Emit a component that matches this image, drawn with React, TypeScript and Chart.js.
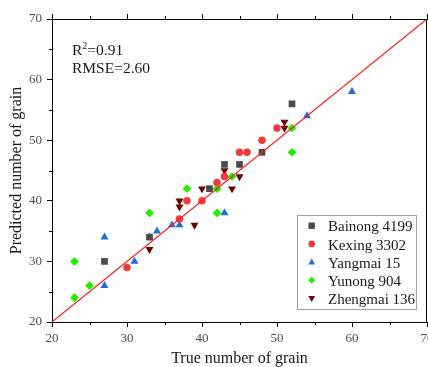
import React, { useEffect, useRef } from 'react';
import { Chart, registerables } from 'chart.js';

Chart.register(...registerables);

// ---- data (true value, predicted value) ----
const seriesNames = ['Bainong 4199', 'Kexing 3302', 'Yangmai 15', 'Yunong 904', 'Zhengmai 136'];

const bainongTrue = [27, 33, 41, 43, 45, 48, 52];
const bainongPred = [30, 34, 42, 46, 46, 48, 56];

const kexingTrue = [30, 37, 38, 40, 42, 43, 45, 46, 48, 50];
const kexingPred = [29, 37, 40, 40, 43, 44, 48, 48, 50, 52];

const yangmaiTrue = [27, 27, 31, 33, 34, 36, 37, 43, 54, 60];
const yangmaiPred = [26, 34, 30, 34, 35, 36, 36, 38, 54, 58];

const yunongTrue = [23, 23, 25, 33, 38, 42, 42, 44, 52, 52];
const yunongPred = [24, 30, 26, 38, 42, 38, 42, 44, 48, 52];

const zhengmaiTrue = [33, 37, 37, 39, 40, 43, 44, 45, 51, 51];
const zhengmaiPred = [32, 39, 40, 36, 42, 45, 42, 44, 52, 53];

const oneToOneLine = [20, 70];
const xTicks = [20, 30, 40, 50, 60, 70];
const yTicks = [20, 30, 40, 50, 60, 70];
const minorTicks = [25, 35, 45, 55, 65];

const r2Value = '0.91';
const rmseValue = '2.60';

const xTitle = 'True number of grain';
const yTitle = 'Predicted number of grain';

const SERIF = "'Liberation Serif', 'Times New Roman', serif";

const colors = ['#4a4a4a', '#ef3d3d', '#1f6fd8', '#22ee00', '#6e0000'];
const styles = ['rect', 'circle', 'triangle', 'rectRot', 'triangle'];
const rotations = [0, 0, 0, 0, 180];
const radii = [4.7, 3.8, 4.6, 4.4, 4.6];

const zip = (xs: number[], ys: number[]) => xs.map((x, i) => ({ x, y: ys[i] }));

function drawMarker(ctx: CanvasRenderingContext2D, kind: number, x: number, y: number, s: number) {
  ctx.beginPath();
  if (kind === 0) {
    ctx.rect(x - s, y - s, 2 * s, 2 * s);
  } else if (kind === 1) {
    ctx.arc(x, y, s, 0, Math.PI * 2);
  } else if (kind === 2) {
    ctx.moveTo(x, y - s * 1.1);
    ctx.lineTo(x + s * 1.05, y + s * 0.75);
    ctx.lineTo(x - s * 1.05, y + s * 0.75);
    ctx.closePath();
  } else if (kind === 3) {
    ctx.moveTo(x, y - s * 1.1);
    ctx.lineTo(x + s * 1.1, y);
    ctx.lineTo(x, y + s * 1.1);
    ctx.lineTo(x - s * 1.1, y);
    ctx.closePath();
  } else {
    ctx.moveTo(x, y + s * 1.1);
    ctx.lineTo(x + s * 1.05, y - s * 0.75);
    ctx.lineTo(x - s * 1.05, y - s * 0.75);
    ctx.closePath();
  }
  ctx.fill();
}

const zeroPad = (s: any) => {
  s.paddingLeft = 0;
  s.paddingRight = 0;
  s.paddingTop = 0;
  s.paddingBottom = 0;
};

const decorPlugin = {
  id: 'decor',
  afterDraw(chart: any) {
    const ctx: CanvasRenderingContext2D = chart.ctx;
    const { left, right, top, bottom } = chart.chartArea;
    const xs = chart.scales.x;
    const ys = chart.scales.y;
    ctx.save();
    // right frame line
    ctx.strokeStyle = '#000';
    ctx.lineWidth = 1;
    ctx.beginPath();
    const rx = Math.round(right) - 0.5;
    ctx.moveTo(rx, top);
    ctx.lineTo(rx, bottom);
    ctx.stroke();
    // minor ticks
    ctx.beginPath();
    minorTicks.forEach((v) => {
      const px = Math.round(xs.getPixelForValue(v)) + 0.5;
      ctx.moveTo(px, bottom);
      ctx.lineTo(px, bottom + 3);
      ctx.moveTo(px, top);
      ctx.lineTo(px, top - 3);
      const py = Math.round(ys.getPixelForValue(v)) + 0.5;
      ctx.moveTo(left, py);
      ctx.lineTo(left - 3, py);
    });
    ctx.stroke();

    // annotation text
    ctx.fillStyle = '#1a1a1a';
    ctx.textBaseline = 'alphabetic';
    ctx.textAlign = 'left';
    const ax = 72;
    ctx.font = `15.5px ${SERIF}`;
    ctx.fillText('R', ax, 54.5);
    const rw = ctx.measureText('R').width;
    ctx.font = `10px ${SERIF}`;
    ctx.fillText('2', ax + rw, 48.5);
    const sw = ctx.measureText('2').width;
    ctx.font = `15.5px ${SERIF}`;
    ctx.fillText('=' + r2Value, ax + rw + sw, 54.5);
    ctx.fillText('RMSE=' + rmseValue, ax, 72.8);

    // legend
    const lx = 297.5, ly = 215.5, lw = 119, lh = 94;
    ctx.fillStyle = '#fff';
    ctx.fillRect(lx, ly, lw, lh);
    ctx.strokeStyle = '#a0a0a0';
    ctx.strokeRect(lx, ly, lw, lh);
    ctx.font = `15px ${SERIF}`;
    seriesNames.forEach((name, i) => {
      const base = 231.3 + i * 18.2;
      ctx.fillStyle = colors[i];
      drawMarker(ctx, i, 311.7, base - 5.6, i === 1 ? 3.3 : 3.2);
      ctx.fillStyle = '#1a1a1a';
      ctx.fillText(name, 328, base);
    });
    ctx.restore();
  },
};

export default function App() {
  const ref = useRef<HTMLCanvasElement>(null);
  useEffect(() => {
    if (!ref.current) return;
    const trues = [bainongTrue, kexingTrue, yangmaiTrue, yunongTrue, zhengmaiTrue];
    const preds = [bainongPred, kexingPred, yangmaiPred, yunongPred, zhengmaiPred];
    const scatterSets = seriesNames.map((name, i) => ({
      type: 'scatter' as const,
      label: name,
      data: zip(trues[i], preds[i]),
      backgroundColor: colors[i],
      borderColor: colors[i],
      borderWidth: 0,
      pointStyle: styles[i],
      rotation: rotations[i],
      pointRadius: radii[i],
      order: 1,
    }));
    const tickFont = { family: SERIF, size: 13 };
    const gridOpts = { display: true, drawOnChartArea: false, drawTicks: true, tickLength: 5, tickColor: '#000', tickWidth: 1 };
    const borderOpts = { display: true, color: '#000', width: 1 };
    const chart = new Chart(ref.current, {
      type: 'scatter',
      data: {
        datasets: [
          {
            type: 'line' as const,
            label: '1:1',
            data: zip(oneToOneLine, oneToOneLine),
            borderColor: '#ff1a1a',
            borderWidth: 1.2,
            pointRadius: 0,
            fill: false,
            order: 0,
          } as any,
          ...scatterSets,
        ],
      },
      options: {
        responsive: false,
        animation: false,
        layout: { padding: { left: 0, right: 1, top: 0, bottom: 0 }, autoPadding: false } as any,
        plugins: { legend: { display: false }, tooltip: { enabled: false } },
        scales: {
          x: {
            type: 'linear',
            position: 'bottom',
            min: 20,
            max: 70,
            afterBuildTicks: (s: any) => { s.ticks = xTicks.map((v) => ({ value: v })); },
            afterFit: (s: any) => { s.height = 45; zeroPad(s); },
            ticks: { font: tickFont, color: '#4d4d4d', padding: 4, maxRotation: 0, autoSkip: false },
            grid: gridOpts,
            border: borderOpts,
            title: { display: true, text: xTitle, font: { family: SERIF, size: 16 }, color: '#1a1a1a', padding: { top: 0, bottom: -1 } },
          },
          x2: {
            type: 'linear',
            axis: 'x',
            position: 'top',
            min: 20,
            max: 70,
            afterBuildTicks: (s: any) => { s.ticks = xTicks.map((v) => ({ value: v })); },
            afterFit: (s: any) => { s.height = 19; zeroPad(s); },
            ticks: { display: false },
            grid: gridOpts,
            border: borderOpts,
          } as any,
          y: {
            type: 'linear',
            position: 'left',
            min: 20,
            max: 70,
            afterBuildTicks: (s: any) => { s.ticks = yTicks.map((v) => ({ value: v })); },
            afterFit: (s: any) => { s.width = 52; zeroPad(s); },
            ticks: { font: tickFont, color: '#4d4d4d', padding: 5, autoSkip: false },
            grid: gridOpts,
            border: borderOpts,
            title: { display: true, text: yTitle, font: { family: SERIF, size: 16 }, color: '#1a1a1a', padding: { top: 7.5, bottom: 0 } },
          },
        },
      },
      plugins: [decorPlugin],
    });
    return () => chart.destroy();
  }, []);
  return (
    <div style={{ position: 'absolute', left: 0, top: 0, width: 428, height: 367, overflow: 'hidden', background: '#fff' }}>
      <canvas ref={ref} width={428} height={367} style={{ display: 'block', width: 428, height: 367 }} />
    </div>
  );
}
